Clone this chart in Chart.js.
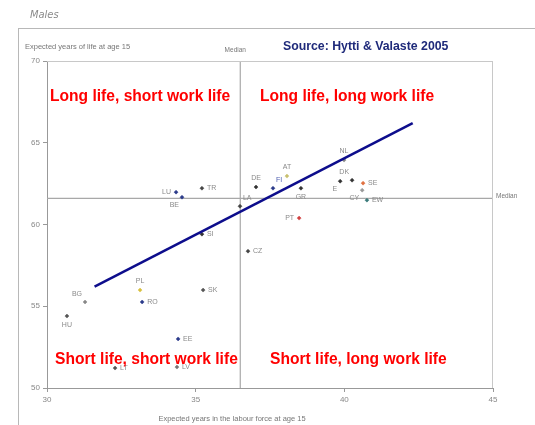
<!DOCTYPE html>
<html><head><meta charset="utf-8">
<script src="https://cdn.jsdelivr.net/npm/chart.js@4"></script>
<style>html,body{margin:0;padding:0;background:#fff}#w{width:535px;height:425px;position:relative}</style>
</head><body><div id="w"><canvas id="c" width="535" height="425"></canvas></div>
<script>
const countries = ["LU","BE","TR","LA","DE","FI","AT","GR","PT","E","NL","DK","SE","CY","EW","SI","CZ","SK","BG","HU","PL","RO","EE","LT","LV"];
const workYears = [34.34,34.54,35.21,36.49,37.03,37.60,38.07,38.54,38.48,39.86,39.99,40.26,40.63,40.60,40.76,35.21,36.76,35.25,31.28,30.67,33.13,33.20,34.41,32.29,34.37];
const lifeYears = [61.98,61.67,62.22,61.12,62.29,62.22,62.96,62.22,60.39,62.65,63.94,62.71,62.53,62.10,61.49,59.41,58.37,55.99,55.26,54.40,55.99,55.26,53.00,51.22,51.28];
const trendX = [31.6,42.3];
const trendY = [56.2,66.2];
const medianWork = 36.5;
const medianLife = 61.6;
const xTicks = [30,35,40,45];
const yTicks = [50,55,60,65,70];

// presentation (not data)
const labelPos = ["l","bl","r","ar","a","ar","a","b","l","bl","a","al","r","bl","r","r","r","r","al","b","a","r","r","r","r"];
const pointColors = ["#2b3a8a","#2b3a8a","#444","#444","#333","#2b3a8a","#c8c070","#333","#d04040","#333","#888","#333","#e07040","#999","#3a7a7a","#333","#444","#555","#888","#555","#d8c040","#2b3a8a","#2b3a8a","#555","#777"];

const pts = countries.map((c,i)=>({x:workYears[i],y:lifeYears[i]}));

const overlay = {
  id:'overlay',
  beforeDraw(chart){
    const ctx=chart.ctx;
    ctx.save();
    ctx.fillStyle='#fff';ctx.fillRect(0,0,chart.width,chart.height);
    ctx.strokeStyle='#b8b8b8';ctx.lineWidth=1;
    ctx.strokeRect(18.5,28.5,540,420);
    ctx.fillStyle='#8a8a8a';ctx.font='italic 11px "Liberation Sans Narrow","DejaVu Sans Condensed",sans-serif';
    ctx.textBaseline='middle';ctx.textAlign='left';
    ctx.fillText('Males',30,15);
    ctx.restore();
  },
  afterDatasetsDraw(chart){
    const ctx=chart.ctx, a=chart.chartArea, xs=chart.scales.x, ys=chart.scales.y;
    ctx.save();
    ctx.strokeStyle='#c8c8c8';ctx.lineWidth=1;
    ctx.beginPath();ctx.moveTo(a.left,a.top+0.5);ctx.lineTo(a.right,a.top+0.5);
    ctx.moveTo(a.right-0.5,a.top);ctx.lineTo(a.right-0.5,a.bottom);ctx.stroke();
    ctx.font='7px "Liberation Sans",Arial,sans-serif';ctx.textBaseline='middle';
    countries.forEach((c,i)=>{
      const px=xs.getPixelForValue(workYears[i]), py=ys.getPixelForValue(lifeYears[i]);
      const p=labelPos[i]; let dx=0,dy=0,al='center';
      if(p==='r'){dx=5;al='left';} else if(p==='l'){dx=-5;al='right';}
      else if(p==='a'){dy=-9;} else if(p==='b'){dy=9;}
      else if(p==='ar'){dx=3;dy=-8;al='left';} else if(p==='al'){dx=-3;dy=-8;al='right';}
      else if(p==='bl'){dx=-3;dy=8;al='right';}
      ctx.textAlign=al;ctx.fillStyle=(i===5)?'#5060b0':'#8a8a8a';
      ctx.fillText(c,px+dx,py+dy);
    });
    ctx.fillStyle='#777';ctx.font='7.5px "Liberation Sans",Arial,sans-serif';
    ctx.textAlign='left';ctx.fillText('Expected years of life at age 15',25,47);
    ctx.textAlign='center';ctx.fillText('Expected years in the labour force at age 15',232,419);
    ctx.font='6.5px "Liberation Sans",Arial,sans-serif';
    ctx.fillText('Median',xs.getPixelForValue(medianWork)-5,50);
    ctx.textAlign='left';ctx.fillText('Median',a.right+3,ys.getPixelForValue(medianLife)-2);
    ctx.fillStyle='#1f2a7a';ctx.font='bold 12.3px "Liberation Sans",Arial,sans-serif';
    ctx.textAlign='left';ctx.fillText('Source: Hytti & Valaste 2005',283,47);
    ctx.fillStyle='#ff0000';ctx.font='bold 15.6px "Liberation Sans",Arial,sans-serif';
    ctx.fillText('Long life, short work life',50,97);
    ctx.fillText('Long life, long work life',260,97);
    ctx.fillText('Short life, short work life',55,360);
    ctx.fillText('Short life, long work life',270,360);
    ctx.restore();
  }
};

new Chart(document.getElementById('c'),{
  type:'scatter',
  data:{datasets:[
    {type:'line',data:[{x:medianWork,y:50},{x:medianWork,y:70}],borderColor:'#a8a8a8',borderWidth:1.2,pointRadius:0,order:3},
    {type:'line',data:[{x:30,y:medianLife},{x:45,y:medianLife}],borderColor:'#a8a8a8',borderWidth:1.2,pointRadius:0,order:3},
    {data:pts,pointStyle:'rectRot',pointRadius:2,backgroundColor:pointColors,borderColor:pointColors,borderWidth:0.5,order:2},
    {type:'line',data:trendX.map((x,i)=>({x,y:trendY[i]})),borderColor:'#0d0d8c',borderWidth:2.5,pointRadius:0,order:1}
  ]},
  plugins:[overlay],
  options:{
    responsive:false,animation:false,devicePixelRatio:1,
    layout:{padding:{left:0,right:42,top:61,bottom:0}},
    plugins:{legend:{display:false},tooltip:{enabled:false}},
    scales:{
      x:{type:'linear',min:30,max:45,
        afterBuildTicks(s){s.ticks=xTicks.map(v=>({value:v}));},
        afterFit(s){s.height=37;},
        grid:{display:true,drawOnChartArea:false,drawTicks:true,tickLength:4,color:'#999'},
        border:{color:'#999',width:1},
        ticks:{color:'#888',font:{size:8,family:'"Liberation Sans",Arial'},padding:3}},
      y:{type:'linear',min:50,max:70,
        afterBuildTicks(s){s.ticks=yTicks.map(v=>({value:v}));},
        afterFit(s){s.width=47;},
        grid:{display:true,drawOnChartArea:false,drawTicks:true,tickLength:4,color:'#999'},
        border:{color:'#999',width:1},
        ticks:{color:'#888',font:{size:8,family:'"Liberation Sans",Arial'},padding:3}}
    }
  }
});
</script></body></html>
